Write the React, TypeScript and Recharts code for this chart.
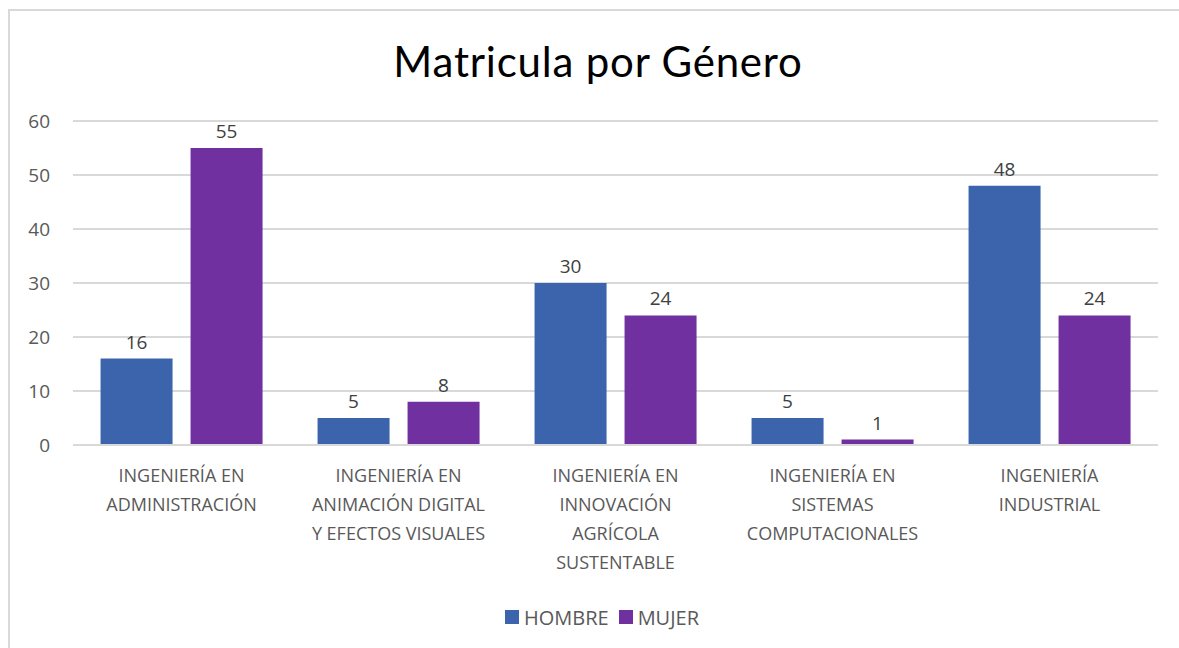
import React from 'react';
import { BarChart, Bar, XAxis, YAxis, CartesianGrid, Legend, LabelList } from 'recharts';

const CATEGORIES = [
  'INGENIERÍA EN ADMINISTRACIÓN',
  'INGENIERÍA EN ANIMACIÓN DIGITAL Y EFECTOS VISUALES',
  'INGENIERÍA EN INNOVACIÓN AGRÍCOLA SUSTENTABLE',
  'INGENIERÍA EN SISTEMAS COMPUTACIONALES',
  'INGENIERÍA INDUSTRIAL',
];
const HOMBRE = [16, 5, 30, 5, 48];
const MUJER = [55, 8, 24, 1, 24];
const Y_TICKS = [0, 10, 20, 30, 40, 50, 60];

const BLUE = '#3B64AD';
const PURPLE = '#7030A0';
const TEXT = '#595959';
const GRID = '#D9D9D9';
const FONT = "'Open Sans', sans-serif";

const data = CATEGORIES.map((name, i) => ({ name, HOMBRE: HOMBRE[i], MUJER: MUJER[i] }));

// wrap label words the way the spreadsheet does (approx by char count)
const wrap = (text: string, max = 18) => {
  const lines: string[] = [];
  let cur = '';
  text.split(' ').forEach((w) => {
    if (!cur) cur = w;
    else if ((cur + ' ' + w).length <= max) cur += ' ' + w;
    else {
      lines.push(cur);
      cur = w;
    }
  });
  if (cur) lines.push(cur);
  return lines;
};

const CategoryTick = ({ x, y, payload }: any) => (
  <text x={x} y={y} textAnchor="middle" fill={TEXT} fontSize={18} fontFamily={FONT}>
    {wrap(payload.value).map((line, i) => (
      <tspan key={i} x={x} dy={29}>{line}</tspan>
    ))}
  </text>
);

const LegendContent = ({ payload }: any) => (
  <div style={{ display: 'flex', justifyContent: 'center', alignItems: 'center', height: 30 }}>
    {payload.map((p: any) => (
      <div key={p.value} style={{ display: 'flex', alignItems: 'center', margin: '0 5px' }}>
        <span style={{ width: 14, height: 14, background: p.color, display: 'inline-block', marginRight: 5 }} />
        <span style={{ color: TEXT, fontSize: 20, fontFamily: FONT }}>{p.value}</span>
      </div>
    ))}
  </div>
);

export default function App() {
  return (
    <div style={{ position: 'absolute', left: 0, top: 0, width: 1179, height: 648, background: '#fff', overflow: 'hidden' }}>
      <div style={{ position: 'absolute', left: 8, top: 9, width: 1200, height: 700, border: `2px solid ${GRID}` }} />
      <div style={{ position: 'absolute', left: 0, top: 36, width: 1196, textAlign: 'center', fontFamily: 'Lato, sans-serif', fontSize: 42, letterSpacing: 0.8, color: '#000' }}>
        Matricula por Género
      </div>
      <div style={{ position: 'absolute', left: 0, top: 0 }}>
        <BarChart
          width={1179}
          height={648}
          data={data}
          margin={{ top: 121, right: 21, bottom: 0, left: 0 }}
          barCategoryGap="12.7%"
          barGap={18}
        >
          <CartesianGrid vertical={false} stroke={GRID} strokeWidth={2} />
          <XAxis
            dataKey="name"
            axisLine={{ stroke: GRID, strokeWidth: 2 }}
            tickLine={false}
            interval={0}
            height={173}
            tick={<CategoryTick />}
          />
          <YAxis
            width={73}
            domain={[0, 60]}
            ticks={Y_TICKS}
            axisLine={false}
            tickLine={false}
            tickSize={0}
            tickMargin={23}
            tick={{ fill: TEXT, fontSize: 19, fontFamily: FONT }}
          />
          <Legend
            verticalAlign="bottom"
            content={<LegendContent />}
            wrapperStyle={{ top: 602, left: 0, width: 1204, height: 30 }}
          />
          <Bar dataKey="HOMBRE" fill={BLUE} isAnimationActive={false}>
            <LabelList dataKey="HOMBRE" position="top" offset={10} fill="#404040" fontSize={19} fontFamily={FONT} />
          </Bar>
          <Bar dataKey="MUJER" fill={PURPLE} isAnimationActive={false}>
            <LabelList dataKey="MUJER" position="top" offset={10} fill="#404040" fontSize={19} fontFamily={FONT} />
          </Bar>
        </BarChart>
      </div>
    </div>
  );
}
